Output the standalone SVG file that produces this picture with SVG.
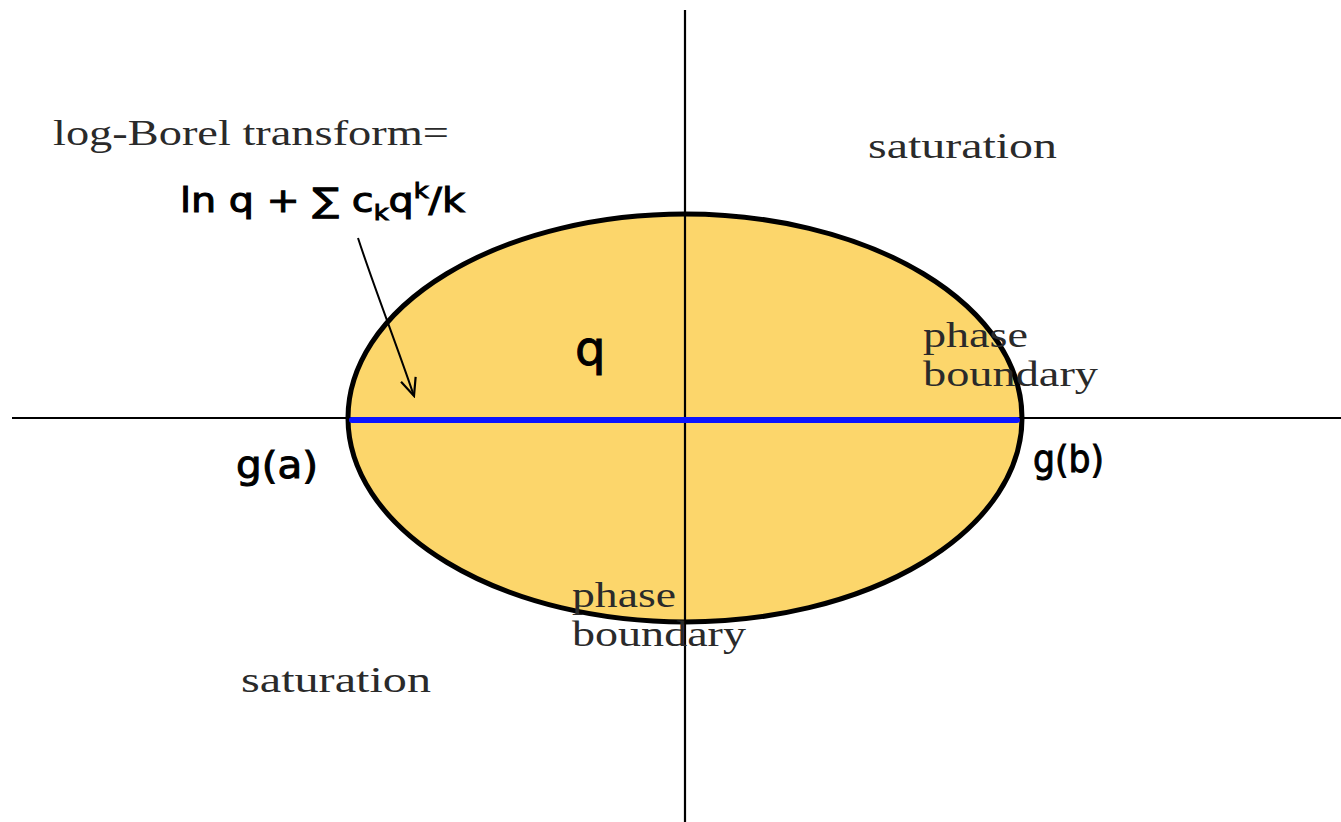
<svg xmlns="http://www.w3.org/2000/svg" width="1341" height="822" viewBox="0 0 1341 822">
<style>
.lbl{font-family:"Liberation Serif","DejaVu Serif",serif;fill:#2a2a2a;font-size:36px}
.hand{font-family:"DejaVu Sans","Liberation Sans",sans-serif;fill:#000;stroke:#000;stroke-width:1}
.axis{stroke:#000;stroke-width:2.2;fill:none}
</style>
<defs>
<marker id="ah" viewBox="0 0 20 20" refX="18" refY="10" markerWidth="22" markerHeight="22" markerUnits="userSpaceOnUse" orient="auto">
<path d="M2,3 L18,10 L2,17" fill="none" stroke="#000" stroke-width="2"/>
</marker>
</defs>
<rect width="1341" height="822" fill="#fff"/>
<g id="region">
<ellipse cx="685" cy="418" rx="337" ry="204" fill="#FCD66B" stroke="#000" stroke-width="5"/>
</g>
<g id="axes">
<line class="axis" x1="685" y1="10" x2="685" y2="822"/>
<line class="axis" x1="12" y1="418" x2="1341" y2="418"/>
</g>
<g id="cut">
<line x1="352" y1="420" x2="1017" y2="420" stroke="#0a14ff" stroke-width="6" stroke-linecap="round"/>
</g>
<g id="connectors">
<path d="M358,238 C375,290 395,340 414,396" fill="none" stroke="#000" stroke-width="2" marker-end="url(#ah)"/>
</g>
<g id="labels">
<text class="lbl" x="53" y="145" textLength="396" lengthAdjust="spacingAndGlyphs">log-Borel transform=</text>
<text class="lbl" x="868" y="158" textLength="189" lengthAdjust="spacingAndGlyphs">saturation</text>
<text class="lbl" x="241" y="692" textLength="190" lengthAdjust="spacingAndGlyphs">saturation</text>
<text class="lbl" x="923" y="347" textLength="105" lengthAdjust="spacingAndGlyphs">phase</text>
<text class="lbl" x="923" y="386" textLength="175" lengthAdjust="spacingAndGlyphs">boundary</text>
<text class="lbl" x="572" y="607" textLength="104" lengthAdjust="spacingAndGlyphs">phase</text>
<text class="lbl" x="572" y="646" textLength="174" lengthAdjust="spacingAndGlyphs">boundary</text>
</g>
<g id="formula">
<text class="hand" x="180" y="212" font-size="34" textLength="285" lengthAdjust="spacingAndGlyphs">ln q + ∑ c<tspan font-size="22" dy="8">k</tspan><tspan dy="-8">q</tspan><tspan font-size="22" dy="-14">k</tspan><tspan dy="14">/k</tspan></text>
</g>
<g id="q-label">
<text class="hand" x="575" y="365" font-size="48">q</text>
</g>
<g id="ga">
<text class="hand" x="236" y="478" font-size="38" textLength="82" lengthAdjust="spacingAndGlyphs">g(a)</text>
</g>
<g id="gb">
<text class="hand" x="1033" y="472" font-size="38" textLength="71" lengthAdjust="spacingAndGlyphs">g(b)</text>
</g>
</svg>
